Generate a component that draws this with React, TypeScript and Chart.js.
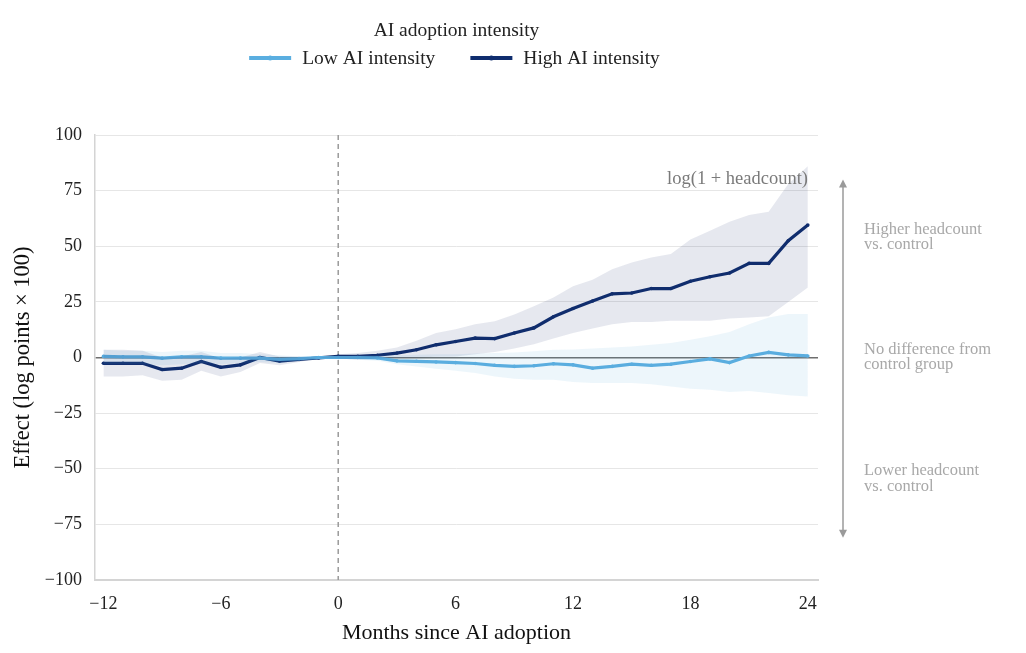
import React, { useEffect, useRef } from 'react'
import { Chart, registerables } from 'chart.js'

Chart.register(...registerables)

const months = [
  -12, -11, -10, -9, -8, -7, -6, -5, -4, -3, -2, -1,
  0, 1, 2, 3, 4, 5, 6, 7, 8, 9, 10, 11, 12, 13, 14, 15, 16, 17, 18, 19, 20, 21, 22, 23, 24,
]

const highEffect = [
  -2.6, -2.6, -2.6, -5.4, -4.8, -1.8, -4.4, -3.3, 0, -1.6, -0.9, -0.2,
  0.5, 0.5, 1, 2, 3.5, 5.7, 7.2, 8.7, 8.5, 11, 13.3, 18.3, 22, 25.4, 28.6, 29, 31, 31, 34.3, 36.3, 38, 42.3, 42.3, 52.5, 59.5,
]
const highUpper = [
  3.5, 3.5, 3, 0, 0.5, 2.5, -0.5, 0, 2.5, 0.5, 0.5, -0.2,
  1.5, 2, 3, 4.5, 7.5, 11, 12.7, 15, 16.3, 19.3, 23, 27, 32, 35, 39.7, 42.7, 45, 46.5, 53, 57, 61, 64, 65.5, 78, 86,
]
const highLower = [
  -8.5, -8.5, -8, -10.5, -10, -6, -8.5, -6.5, -2.5, -3.5, -2, -0.2,
  -0.5, -1, -0.5, 0, 0, 0.3, 0.5, 1.5, 2.5, 4, 6, 8.5, 11, 13, 15, 16, 16, 16.5, 16.5, 16.5, 17.5, 18, 18.5, 25, 31.5,
]

const lowEffect = [
  0.5, 0.3, 0.3, -0.3, 0.3, 0.3, -0.3, -0.3, -0.3, -0.8, -0.5, 0,
  0, 0, -0.2, -1.5, -1.7, -2, -2.3, -2.7, -3.5, -4, -3.7, -2.8, -3.3, -4.8, -4, -3, -3.5, -3, -1.8, -0.6, -2.3, 0.7, 2.3, 1.2, 0.7,
]
const lowUpper = [
  3.5, 3, 3, 2.5, 3, 3, 2, 2, 1.5, 1, 0.5, 0,
  0.5, 1, 1, 1, 1.2, 1.5, 1.5, 1.8, 2, 2.3, 2.8, 3.5, 3.6, 4, 4.5, 5, 5.7, 6.5, 8, 9.5, 11.5, 15, 18, 19.5, 19.5,
]
const lowLower = [
  -3, -3, -3, -3.5, -3, -2.5, -3, -2.5, -2, -2.5, -1.5, 0,
  -0.5, -1, -1.5, -3, -4, -5, -6, -7, -8.5, -9.5, -10, -10, -11, -11.5, -11.5, -11.5, -12, -13, -14, -14.5, -15.5, -15, -16, -17, -17.5,
]

const yTicks = [-100, -75, -50, -25, 0, 25, 50, 75, 100]
const xTicks = [-12, -6, 0, 6, 12, 18, 24]

const LOW_COLOR = '#5aaee0'
const HIGH_COLOR = '#0f2d6e'
const SERIF = '"Liberation Serif", "DejaVu Serif", serif'

const pts = (ys: number[]) => ys.map((y, i) => ({ x: months[i], y }))
const minus = (v: number | string) => String(v).replace('-', '\u2212')

const decorPlugin = {
  id: 'decor',
  beforeDatasetsDraw(chart: Chart) {
    const { ctx, chartArea, scales } = chart
    const x0 = scales.x.getPixelForValue(0)
    ctx.save()
    ctx.strokeStyle = '#9a9a9a'
    ctx.lineWidth = 1.5
    ctx.setLineDash([5, 4])
    ctx.beginPath()
    ctx.moveTo(x0, chartArea.top)
    ctx.lineTo(x0, chartArea.bottom)
    ctx.stroke()
    ctx.restore()
  },
  afterDraw(chart: Chart) {
    const { ctx, chartArea, scales } = chart
    const y = scales.y
    ctx.save()

    // series label inside the plot
    ctx.fillStyle = '#7a7a7a'
    ctx.font = `18.5px ${SERIF}`
    ctx.textAlign = 'right'
    ctx.textBaseline = 'middle'
    ctx.fillText('log(1 + headcount)', chartArea.right - 10, y.getPixelForValue(80))

    // double arrow on the right
    const ax = chartArea.right + 25
    const top = y.getPixelForValue(80)
    const bot = y.getPixelForValue(-81)
    ctx.strokeStyle = '#9a9a9a'
    ctx.fillStyle = '#9a9a9a'
    ctx.lineWidth = 1.5
    ctx.beginPath()
    ctx.moveTo(ax, top + 6)
    ctx.lineTo(ax, bot - 6)
    ctx.stroke()
    ctx.beginPath()
    ctx.moveTo(ax, top)
    ctx.lineTo(ax - 4, top + 8)
    ctx.lineTo(ax + 4, top + 8)
    ctx.closePath()
    ctx.fill()
    ctx.beginPath()
    ctx.moveTo(ax, bot)
    ctx.lineTo(ax - 4, bot - 8)
    ctx.lineTo(ax + 4, bot - 8)
    ctx.closePath()
    ctx.fill()

    ctx.fillStyle = '#a8a8a8'
    ctx.font = `16.5px ${SERIF}`
    ctx.textAlign = 'left'
    const tx = ax + 21
    const notes: [string, string, number][] = [
      ['Higher headcount', 'vs. control', 54],
      ['No difference from', 'control group', 0],
      ['Lower headcount', 'vs. control', -54.5],
    ]
    notes.forEach(([a, b, v]) => {
      const py = y.getPixelForValue(v)
      ctx.fillText(a, tx, py - 8)
      ctx.fillText(b, tx, py + 7.5)
    })

    // legend
    const cx = (chartArea.left + chartArea.right) / 2
    ctx.fillStyle = '#222'
    ctx.font = `19.5px ${SERIF}`
    ctx.textAlign = 'center'
    ctx.fillText('AI adoption intensity', cx, 23)
    const items = chart.data.datasets.filter((d: any) => d.inLegend)
    const sample = 42
    const gapText = 11
    const gapItem = 35
    const widths = items.map((d: any) => sample + gapText + ctx.measureText(d.label).width)
    const total = widths.reduce((a, b) => a + b, 0) + gapItem * (items.length - 1)
    let lx = cx - 2 - total / 2
    const ly = 50
    items.forEach((d: any, i: number) => {
      ctx.strokeStyle = d.borderColor
      ctx.lineWidth = 4
      ctx.beginPath()
      ctx.moveTo(lx, ly)
      ctx.lineTo(lx + sample, ly)
      ctx.stroke()
      ctx.fillStyle = d.borderColor
      ctx.beginPath()
      ctx.arc(lx + sample / 2, ly, 2.5, 0, Math.PI * 2)
      ctx.fill()
      ctx.fillStyle = '#222'
      ctx.textAlign = 'left'
      ctx.fillText(d.label, lx + sample + gapText, ly + 1)
      lx += widths[i] + gapItem
    })
    ctx.restore()
  },
}

const App: React.FC = () => {
  const ref = useRef<HTMLCanvasElement | null>(null)

  useEffect(() => {
    if (!ref.current) return
    const band = { borderWidth: 0, pointRadius: 0, tension: 0 }
    const chart = new Chart(ref.current, {
      type: 'line',
      data: {
        datasets: [
          { ...band, label: 'high upper', data: pts(highUpper), fill: '+1', backgroundColor: 'rgba(30,50,110,0.11)' },
          { ...band, label: 'high lower', data: pts(highLower), fill: false },
          { ...band, label: 'low upper', data: pts(lowUpper), fill: '+1', backgroundColor: 'rgba(90,170,220,0.11)' },
          { ...band, label: 'low lower', data: pts(lowLower), fill: false },
          {
            label: 'Low AI intensity',
            inLegend: true,
            data: pts(lowEffect),
            borderColor: LOW_COLOR,
            backgroundColor: LOW_COLOR,
            borderWidth: 3.2,
            pointRadius: 1.8,
            pointBorderWidth: 0,
            fill: false,
          },
          {
            label: 'High AI intensity',
            inLegend: true,
            data: pts(highEffect),
            borderColor: HIGH_COLOR,
            backgroundColor: HIGH_COLOR,
            borderWidth: 3.2,
            pointRadius: 1.8,
            pointBorderWidth: 0,
            fill: false,
          },
        ] as any,
      },
      options: {
        animation: false,
        responsive: true,
        maintainAspectRatio: false,
        layout: { padding: { top: 127, right: 200, bottom: 3, left: 2 } },
        plugins: { legend: { display: false }, tooltip: { enabled: false } },
        scales: {
          x: {
            type: 'linear',
            min: -12.43,
            max: 24.52,
            afterBuildTicks: (s: any) => {
              s.ticks = xTicks.map((v) => ({ value: v }))
            },
            afterFit: (s: any) => {
              s.height = 66
            },
            grid: { display: false, drawTicks: false },
            border: { color: '#d4d4d4', width: 2 },
            ticks: {
              color: '#222',
              padding: 13,
              font: { family: SERIF, size: 18 },
              callback: (v: any) => minus(v),
            },
            title: {
              display: true,
              text: 'Months since AI adoption',
              color: '#111',
              font: { family: SERIF, size: 22 },
              padding: { top: 5, bottom: 0 },
            },
          },
          y: {
            min: -100,
            max: 100,
            afterBuildTicks: (s: any) => {
              s.ticks = yTicks.map((v) => ({ value: v }))
            },
            afterFit: (s: any) => {
              s.width = 85
            },
            grid: {
              drawTicks: false,
              color: (c: any) => (c.tick && c.tick.value === 0 ? '#6e6e6e' : '#e6e6e6'),
              lineWidth: (c: any) => (c.tick && c.tick.value === 0 ? 1.5 : 1),
            },
            border: { color: '#d4d4d4', width: 1.5 },
            ticks: {
              color: '#222',
              padding: 13,
              font: { family: SERIF, size: 18 },
              callback: (v: any) => minus(v),
            },
            title: {
              display: true,
              text: 'Effect (log points \u00d7 100)',
              color: '#111',
              font: { family: SERIF, size: 22.5 },
              padding: { top: 0, bottom: 4 },
            },
          },
        },
      },
      plugins: [decorPlugin],
    })
    return () => chart.destroy()
  }, [])

  return (
    <div style={{ width: 1010, height: 641 }}>
      <canvas ref={ref} />
    </div>
  )
}

export default App
